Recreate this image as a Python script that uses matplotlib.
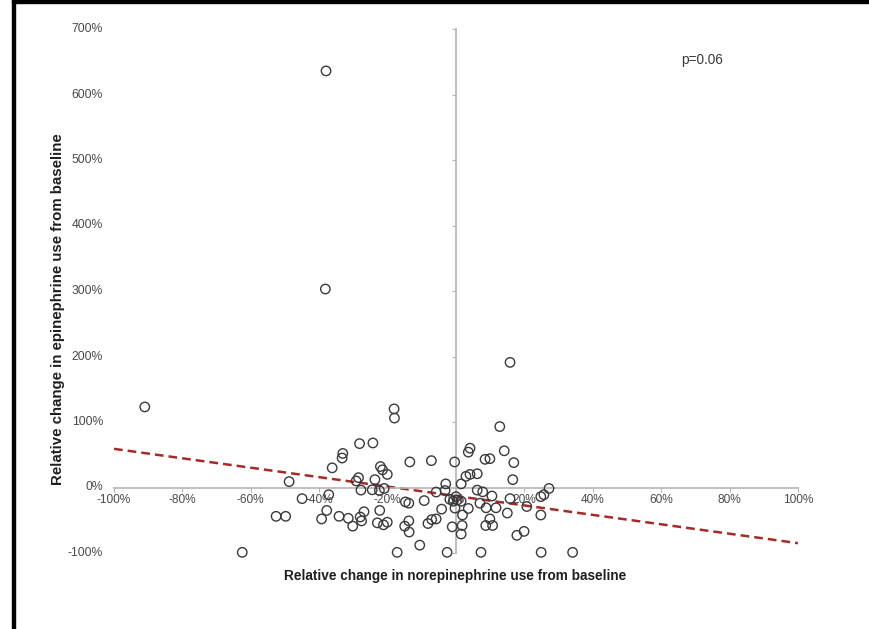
import numpy as np
import matplotlib.pyplot as plt
from matplotlib.transforms import blended_transform_factory
from matplotlib.patches import Rectangle

plt.rcParams['font.family'] = ['Liberation Sans', 'DejaVu Sans']

# relative change (%) in norepinephrine (x) and epinephrine (y) use from baseline
norepi = [-91, -62.5, -52.6, -49.8, -48.8, -45, -39.3, -37.8, -37.2, -38, -38.2, -36.2,
          -34.2, -33.1, -33.3, -31.5, -30.2, -29.2, -28.5, -28.2, -28, -27.8, -27.6, -26.9,
          -24.3, -24.5, -23.7, -23, -22.4, -22.3, -22.1, -21.5, -21.2, -21, -20.1, -20.1,
          -18.1, -18, -17.2, -15, -14.8, -13.8, -13.8, -13.7, -13.5, -10.6, -9.3, -8.2,
          -7.2, -7.1, -5.8, -5.8, -4.2, -3.2, -3, -2.6, -1.8, -1.1, -0.8, -0.4, -0.3, 0,
          0.4, 1.5, 1.5, 1.5, 1.8, 1.9, 2.9, 3.6, 3.6, 4.1, 4.1, 6.2, 6.2, 7, 7.3, 7.8,
          8.5, 8.7, 8.8, 9.9, 9.9, 10.5, 10.7, 11.7, 12.8, 14.1, 15, 15.8, 15.8, 16.6,
          16.9, 17.8, 19.9, 20.7, 24.8, 24.8, 24.9, 25.7, 27.2, 34.1]
epi = [123, -99, -44, -44, 9, -17, -48, -35, -11, 636, 303, 30,
       -44, 52, 45, -47, -59, 10, 15, 67, -45, -4, -51, -37,
       68, -3.5, 12, -54, -4.6, -35, 32, 27, -57, -1.5, 20, -53,
       120, 106, -99, -59, -22, -24, -51, -68, 39, -88, -20, -55,
       41, -49, -48, -7, -33, -4.6, 5.5, -99, -18, -60, -21, 39, -31.5, -14,
       -19, -21, 5.5, -71, -58, -42, 17, 54, -32, 20, 60, 21, -4, -24, -99, -6.6,
       43, -58, -31, 44, -48, -13, -58, -31, 93, 56, -39, -17, 191, 12,
       38, -73, -67, -29, -14, -42, -99, -11, -1.5, -99]

# trend line end points
trend_x = [-100, 100]
trend_y = [59, -85]

xticks = [-100, -80, -60, -40, -20, 0, 20, 40, 60, 80, 100]
yticks = [-100, 0, 100, 200, 300, 400, 500, 600, 700]

fig = plt.figure(figsize=(8.69, 6.29), dpi=100)
ax = fig.add_axes([114/869, 1-553/629, 684/869, 524/629])

ax.plot(trend_x, trend_y, color='#a52a2a', lw=1.8, dashes=(3.5, 2), zorder=2)
ax.scatter(norepi, epi, s=46, facecolors='none', edgecolors='#3a3a3a',
           linewidths=1.0, zorder=3, clip_on=False)

ax.set_xlim(-100, 100)
ax.set_ylim(-100, 700)
for s in ['top', 'right']:
    ax.spines[s].set_visible(False)
ax.spines['left'].set_position(('data', 0))
ax.spines['bottom'].set_position(('data', 0))
for s in ['left', 'bottom']:
    ax.spines[s].set_color('#b4b4b4')
    ax.spines[s].set_linewidth(1.2)

ax.set_xticks(xticks)
ax.set_xticklabels([f'{t}%' for t in xticks])
ax.set_yticks(yticks)
ax.tick_params(axis='both', direction='out', length=3, color='#b4b4b4',
               labelsize=8.6, labelcolor='#4a4a4a', pad=1.5)
ax.tick_params(axis='y', labelleft=False)

# y labels sit at the left edge, not on the axis line
trans = blended_transform_factory(ax.transAxes, ax.transData)
for t in yticks:
    ax.text(-0.016, t, f'{t}%', transform=trans, ha='right', va='center',
            fontsize=8.8, color='#4a4a4a')

fig.text(455/869, 1-576/629, 'Relative change in norepinephrine use from baseline',
         ha='center', va='center', fontsize=9.8, fontweight='bold', color='#1e1e1e')
fig.text(58/869, 1-309/629, 'Relative change in epinephrine use from baseline',
         ha='center', va='center', rotation=90, fontsize=10.8, fontweight='bold',
         color='#1e1e1e')
fig.text(702/869, 1-60/629, 'p=0.06', ha='center', va='center', fontsize=9.8,
         color='#3a3a3a')

# frame lines at top and left
fig.patches.append(Rectangle((12/869, 0), 3/869, 1, transform=fig.transFigure,
                             color='black', zorder=10))
fig.patches.append(Rectangle((12/869, 1-3/629), 1, 3/629, transform=fig.transFigure,
                             color='black', zorder=10))

fig.savefig('out.png', dpi=100)
